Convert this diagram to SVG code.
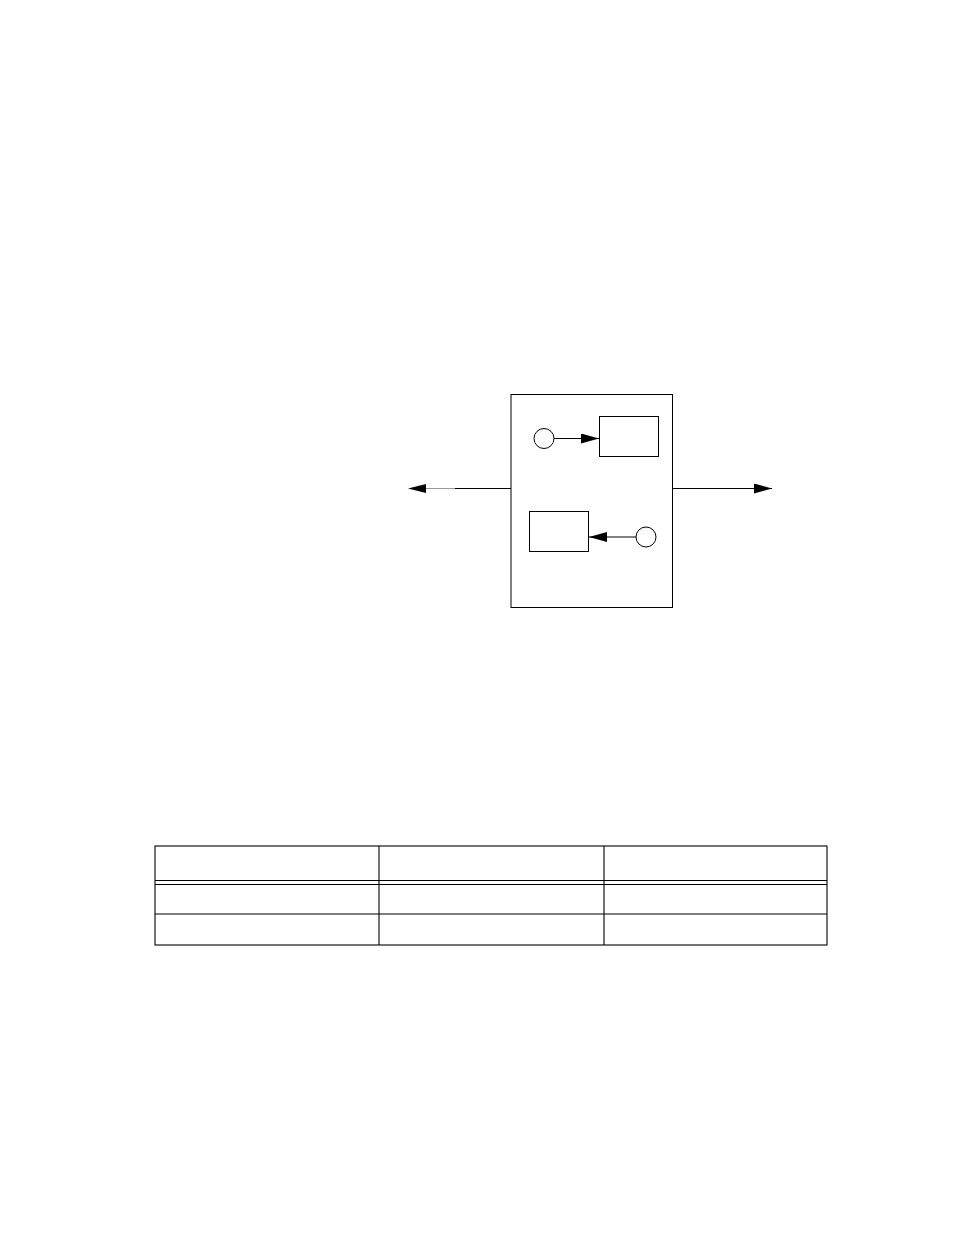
<svg xmlns="http://www.w3.org/2000/svg" width="954" height="1235" viewBox="0 0 954 1235">
<style>
.ln{stroke:#000;stroke-width:1;fill:none}
.bx{stroke:#000;stroke-width:1;fill:#fff}
.tb{stroke:#000;stroke-width:1.1;fill:none}
</style>
<defs>
<marker id="ah" viewBox="0 0 18 10" refX="18" refY="5" markerWidth="18" markerHeight="10" markerUnits="userSpaceOnUse" orient="auto">
<path d="M0,0 L18,5 L0,10 Z" fill="#000"/>
</marker>
</defs>
<rect width="954" height="1235" fill="#fff"/>
<g id="outer-box"><rect class="bx" x="511" y="394.5" width="161.5" height="213"/></g>
<g id="circle-top"><circle class="bx" cx="544" cy="438.5" r="10"/></g>
<g id="box-top"><rect class="bx" x="599.5" y="416.5" width="59" height="40"/></g>
<g id="box-bottom"><rect class="bx" x="529.5" y="511.5" width="59" height="40"/></g>
<g id="circle-bottom"><circle class="bx" cx="646" cy="537" r="10"/></g>
<g id="connectors">
<line class="ln" x1="554" y1="438.5" x2="599" y2="438.5" marker-end="url(#ah)"/>
<line class="ln" x1="636" y1="537" x2="589" y2="537" marker-end="url(#ah)"/>
<line class="ln" x1="511" y1="488.5" x2="454" y2="488.5"/>
<line x1="455" y1="488.5" x2="424" y2="488.5" stroke="#999" stroke-width="1"/>
<path d="M426,484 L408,488.5 L426,493 Z" fill="#000"/>
<line class="ln" x1="672.5" y1="488.5" x2="772" y2="488.5" marker-end="url(#ah)"/>
</g>
<g id="table">
<rect class="tb" x="155" y="846" width="672" height="99"/>
<line class="tb" x1="155" y1="880.5" x2="827" y2="880.5"/>
<line class="tb" x1="155" y1="884.5" x2="827" y2="884.5"/>
<line class="tb" x1="155" y1="914" x2="827" y2="914"/>
<line class="tb" x1="379" y1="846" x2="379" y2="945"/>
<line class="tb" x1="604" y1="846" x2="604" y2="945"/>
</g>
</svg>
